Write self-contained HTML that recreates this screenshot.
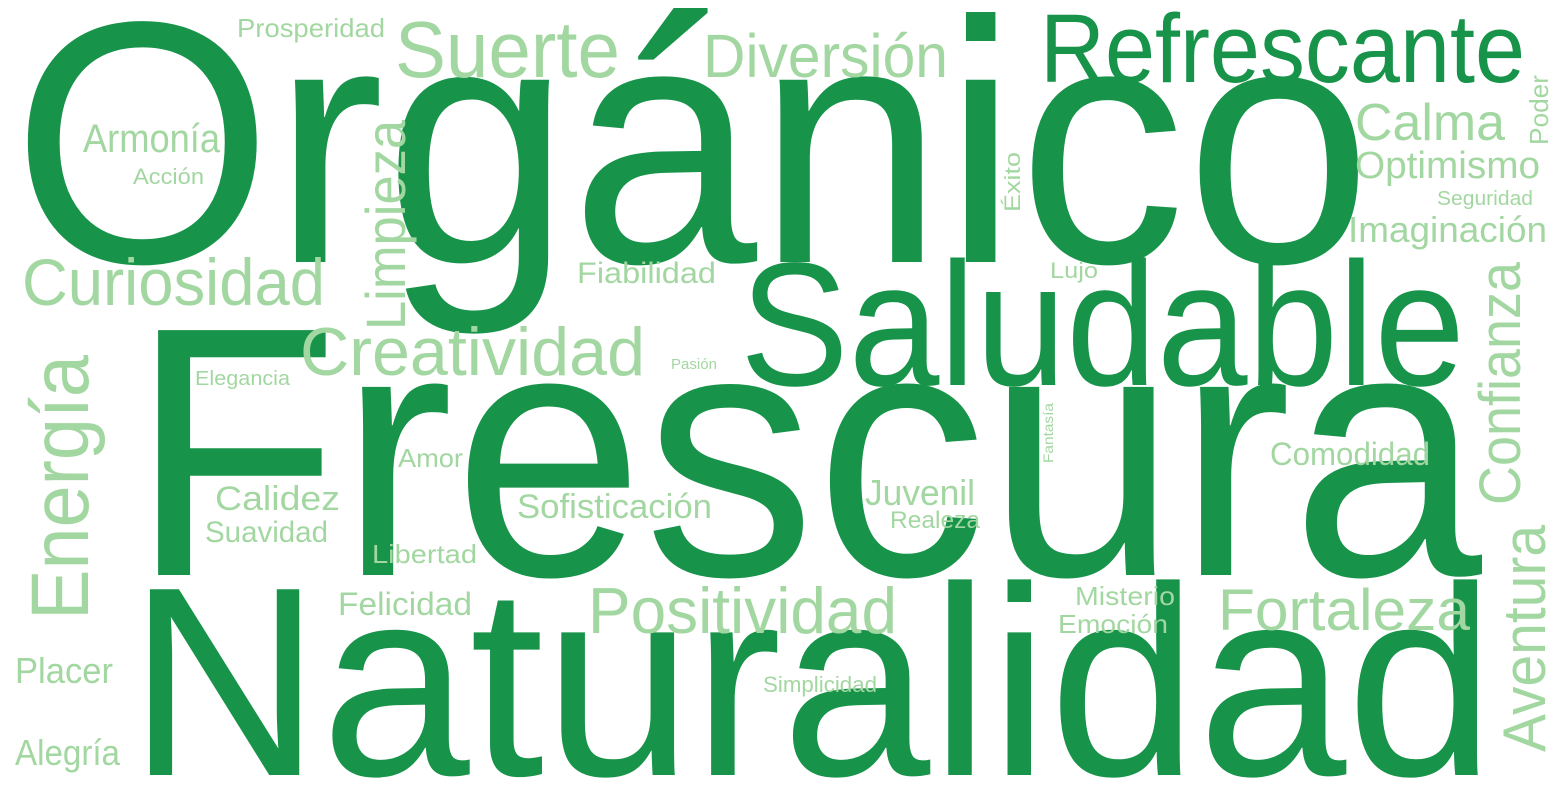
<!DOCTYPE html>
<html><head><meta charset="utf-8"><style>
html,body{margin:0;padding:0;background:#fff;width:1560px;height:790px;overflow:hidden;}
svg{display:block;font-family:"Liberation Sans",sans-serif;overflow:hidden;}
.d{fill:#17934a}.l{fill:#a3d7a1}
</style></head><body>
<svg width="1560" height="790" viewBox="0 0 1560 790">
<g>
<text class="d" x="12" y="262" font-size="345" textLength="1360" lengthAdjust="spacingAndGlyphs">Orgánico</text>
<text class="d" x="130" y="575" font-size="356" textLength="1352" lengthAdjust="spacingAndGlyphs">Frescura</text>
<text class="d" x="128" y="775" font-size="270" textLength="1367" lengthAdjust="spacingAndGlyphs">Naturalidad</text>
<text class="d" x="740" y="385" font-size="176" textLength="725" lengthAdjust="spacingAndGlyphs">Saludable</text>
<text class="d" x="1040" y="82" font-size="97" textLength="485" lengthAdjust="spacingAndGlyphs">Refrescante</text>
<text class="l" x="395" y="77" font-size="80" textLength="225" lengthAdjust="spacingAndGlyphs">Suerte</text>
<text class="l" x="703" y="77" font-size="61" textLength="245" lengthAdjust="spacingAndGlyphs">Diversión</text>
<text class="l" x="237" y="37" font-size="26" textLength="148" lengthAdjust="spacingAndGlyphs">Prosperidad</text>
<text class="l" x="83" y="152" font-size="40" textLength="137" lengthAdjust="spacingAndGlyphs">Armonía</text>
<text class="l" x="133" y="184" font-size="22" textLength="71" lengthAdjust="spacingAndGlyphs">Acción</text>
<text class="l" transform="translate(405,330) rotate(-90)" font-size="56" textLength="210" lengthAdjust="spacingAndGlyphs">Limpieza</text>
<text class="l" x="22" y="305" font-size="66" textLength="303" lengthAdjust="spacingAndGlyphs">Curiosidad</text>
<text class="l" x="300" y="375" font-size="68" textLength="345" lengthAdjust="spacingAndGlyphs">Creatividad</text>
<text class="l" x="577" y="283" font-size="30" textLength="139" lengthAdjust="spacingAndGlyphs">Fiabilidad</text>
<text class="l" transform="translate(1020,212) rotate(-90)" font-size="22" textLength="60" lengthAdjust="spacingAndGlyphs">Éxito</text>
<text class="l" x="1355" y="140" font-size="52" textLength="150" lengthAdjust="spacingAndGlyphs">Calma</text>
<text class="l" x="1355" y="178" font-size="38" textLength="185" lengthAdjust="spacingAndGlyphs">Optimismo</text>
<text class="l" transform="translate(1548,145) rotate(-90)" font-size="26" textLength="70" lengthAdjust="spacingAndGlyphs">Poder</text>
<text class="l" x="1437" y="205" font-size="20" textLength="96" lengthAdjust="spacingAndGlyphs">Seguridad</text>
<text class="l" x="1348" y="242" font-size="36" textLength="199" lengthAdjust="spacingAndGlyphs">Imaginación</text>
<text class="l" transform="translate(1520,505) rotate(-90)" font-size="58" textLength="243" lengthAdjust="spacingAndGlyphs">Confianza</text>
<text class="l" x="1050" y="278" font-size="22" textLength="48" lengthAdjust="spacingAndGlyphs">Lujo</text>
<text class="l" x="671" y="369" font-size="15" textLength="46" lengthAdjust="spacingAndGlyphs">Pasión</text>
<text class="l" x="195" y="385" font-size="20" textLength="95" lengthAdjust="spacingAndGlyphs">Elegancia</text>
<text class="l" transform="translate(88,620) rotate(-90)" font-size="82" textLength="265" lengthAdjust="spacingAndGlyphs">Energía</text>
<text class="l" transform="translate(1053,463) rotate(-90)" font-size="14" textLength="60" lengthAdjust="spacingAndGlyphs">Fantasía</text>
<text class="l" x="398" y="467" font-size="26" textLength="65" lengthAdjust="spacingAndGlyphs">Amor</text>
<text class="l" x="1270" y="465" font-size="32" textLength="160" lengthAdjust="spacingAndGlyphs">Comodidad</text>
<text class="l" x="215" y="510" font-size="34" textLength="125" lengthAdjust="spacingAndGlyphs">Calidez</text>
<text class="l" x="205" y="542" font-size="30" textLength="123" lengthAdjust="spacingAndGlyphs">Suavidad</text>
<text class="l" x="517" y="518" font-size="34" textLength="195" lengthAdjust="spacingAndGlyphs">Sofisticación</text>
<text class="l" x="865" y="505" font-size="36" textLength="110" lengthAdjust="spacingAndGlyphs">Juvenil</text>
<text class="l" x="890" y="528" font-size="24" textLength="90" lengthAdjust="spacingAndGlyphs">Realeza</text>
<text class="l" x="372" y="563" font-size="26" textLength="105" lengthAdjust="spacingAndGlyphs">Libertad</text>
<text class="l" transform="translate(1545,752) rotate(-90)" font-size="60" textLength="227" lengthAdjust="spacingAndGlyphs">Aventura</text>
<text class="l" x="338" y="615" font-size="32" textLength="134" lengthAdjust="spacingAndGlyphs">Felicidad</text>
<text class="l" x="588" y="633" font-size="65" textLength="309" lengthAdjust="spacingAndGlyphs">Positividad</text>
<text class="l" x="1218" y="630" font-size="58" textLength="252" lengthAdjust="spacingAndGlyphs">Fortaleza</text>
<text class="l" x="1075" y="605" font-size="26" textLength="100" lengthAdjust="spacingAndGlyphs">Misterio</text>
<text class="l" x="1058" y="633" font-size="26" textLength="110" lengthAdjust="spacingAndGlyphs">Emoción</text>
<text class="l" x="15" y="683" font-size="36" textLength="98" lengthAdjust="spacingAndGlyphs">Placer</text>
<text class="l" x="763" y="692" font-size="22" textLength="114" lengthAdjust="spacingAndGlyphs">Simplicidad</text>
<text class="l" x="15" y="765" font-size="36" textLength="105" lengthAdjust="spacingAndGlyphs">Alegría</text>
</g>
</svg>
</body></html>
